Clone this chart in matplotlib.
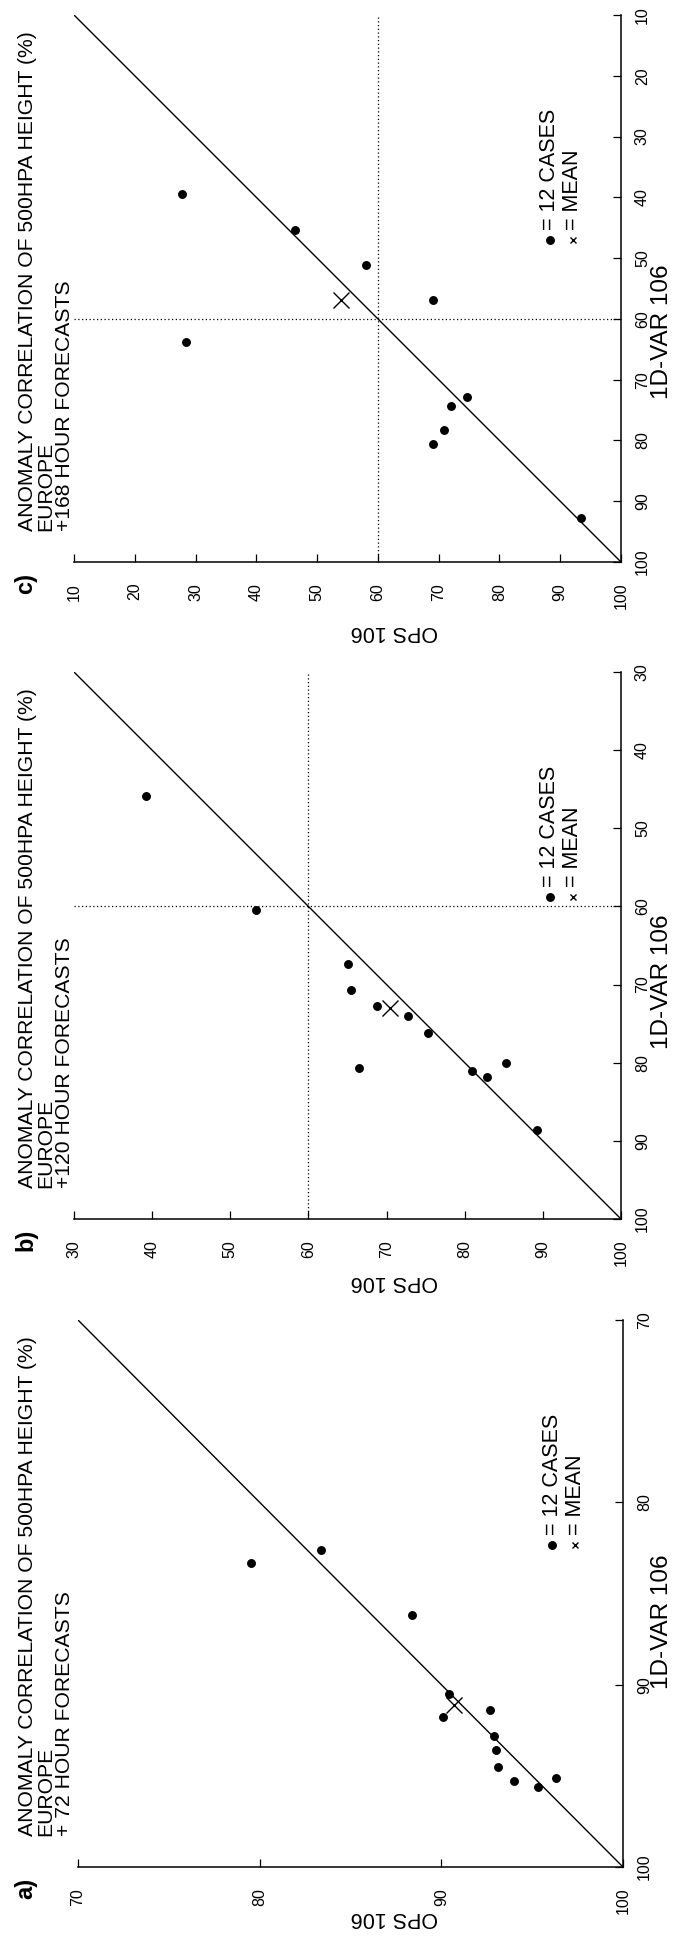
import numpy as np
import matplotlib
matplotlib.use("Agg")
import matplotlib.pyplot as plt

plt.rcParams['font.family'] = ['Liberation Sans', 'DejaVu Sans']

# ---- data (OPS 106 vs 1D-VAR 106 anomaly correlation, %) ----
a_ops = [79.5, 83.4, 88.4, 90.4, 90.1, 92.7, 92.9, 93.0, 93.1, 94.0, 95.3, 96.3]
a_var = [83.3, 82.6, 86.2, 90.5, 91.8, 91.4, 92.8, 93.6, 94.5, 95.3, 95.6, 95.1]
a_mean = [90.7, 91.1]
a_ticks = [70, 80, 90, 100]

b_ops = [39.2, 53.3, 65.1, 65.5, 68.8, 72.7, 75.3, 66.5, 80.9, 82.9, 85.3, 89.2]
b_var = [45.9, 60.5, 67.4, 70.7, 72.7, 74.0, 76.2, 80.7, 81.1, 81.8, 80.0, 88.6]
b_mean = [70.4, 73.0]
b_ticks = [30, 40, 50, 60, 70, 80, 90, 100]

c_ops = [27.7, 46.3, 58.0, 69.0, 28.5, 74.7, 72.0, 70.8, 69.0, 93.5]
c_var = [39.4, 45.3, 51.1, 56.9, 63.8, 72.9, 74.4, 78.3, 80.6, 92.8]
c_mean = [54.0, 56.9]
c_ticks = [10, 20, 30, 40, 50, 60, 70, 80, 90, 100]

titles = ["ANOMALY CORRELATION OF 500HPA HEIGHT (%)", "EUROPE"]
hours = {"a": "+ 72 HOUR FORECASTS", "b": "+120 HOUR FORECASTS", "c": "+168 HOUR FORECASTS"}

W, H = 676, 1937
fig = plt.figure(figsize=(W / 100, H / 100), dpi=100)


def ftext(x, y, s, **kw):
    # place text by pixel position of the page
    fig.text(x / W, 1 - y / H, s, **kw)


def panel(tag, ops, var, mean, ticks, box, show_sixty):
    x0, y0, x1, y1 = box
    ax = fig.add_axes([x0 / W, 1 - y1 / H, (x1 - x0) / W, (y1 - y0) / H])
    lo = ticks[0]
    ax.set_xlim(lo, 100)
    ax.set_ylim(100, lo)
    ax.plot([lo, 100], [lo, 100], color="black", lw=1.0)
    if show_sixty:
        ax.axvline(60, color="black", lw=0.9, ls=(0, (1, 2)))
        ax.axhline(60, color="black", lw=0.9, ls=(0, (1, 2)))
    ax.plot(ops, var, "o", color="black", ms=5.4)
    ax.plot(mean[0], mean[1], "x", color="black", ms=11, mew=1.0)

    for s in ["top", "left"]:
        ax.spines[s].set_visible(False)
    for s in ["bottom", "right"]:
        ax.spines[s].set_linewidth(1.1)
    ax.yaxis.tick_right()
    ax.set_xticks(ticks)
    ax.set_yticks(ticks)
    ax.tick_params(axis="x", direction="in", length=5.5, width=0.9, pad=15,
                   labelrotation=90, labelsize=11.5)
    ax.tick_params(axis="y", direction="in", length=5.5, width=0.9, pad=10,
                   labelrotation=90, labelsize=11.5)
    plt.setp(ax.get_yticklabels(), va="center", ha="left")

    # legend
    ax.plot(0.87, 0.589, "o", color="black", ms=5.4, transform=ax.transAxes, clip_on=False)
    ax.text(0.87, 0.607, "= 12 CASES", rotation=90, ha="center", va="bottom",
            fontsize=15.5, transform=ax.transAxes)
    ax.plot(0.912, 0.589, "x", color="black", ms=5, mew=1.0, transform=ax.transAxes, clip_on=False)
    ax.text(0.912, 0.607, "= MEAN", rotation=90, ha="center", va="bottom",
            fontsize=15.5, transform=ax.transAxes)

    # page texts
    ftext(28, y1 - 31, titles[0], rotation=90, ha="center", va="bottom", fontsize=15.2)
    ftext(46, y1 - 31, titles[1], rotation=90, ha="center", va="bottom", fontsize=15.2)
    ftext(65, y1 - 31, hours[tag], rotation=90, ha="center", va="bottom", fontsize=15.2)
    ftext(26, y1 + 21, tag + ")", rotation=90, ha="center", va="center",
          fontsize=17, fontweight="bold")
    return ax


ax_c = panel("c", c_ops, c_var, c_mean, c_ticks, (74, 15, 621, 562), True)
ax_b = panel("b", b_ops, b_var, b_mean, b_ticks, (74, 672, 621, 1219), True)
ax_a = panel("a", a_ops, a_var, a_mean, a_ticks, (78, 1320, 623, 1867), False)

ftext(394, 632, "OPS 106", rotation=180, ha="center", va="center", fontsize=15.5)
ftext(394, 1281, "OPS 106", rotation=180, ha="center", va="center", fontsize=15.5)
ftext(394, 1917, "OPS 106", rotation=180, ha="center", va="center", fontsize=15.5)
ftext(662, 332, "1D-VAR 106", rotation=90, ha="center", va="center", fontsize=17.5)
ftext(662, 982, "1D-VAR 106", rotation=90, ha="center", va="center", fontsize=17.5)
ftext(662, 1622, "1D-VAR 106", rotation=90, ha="center", va="center", fontsize=17.5)

fig.savefig("out.png", dpi=100, facecolor="white")
